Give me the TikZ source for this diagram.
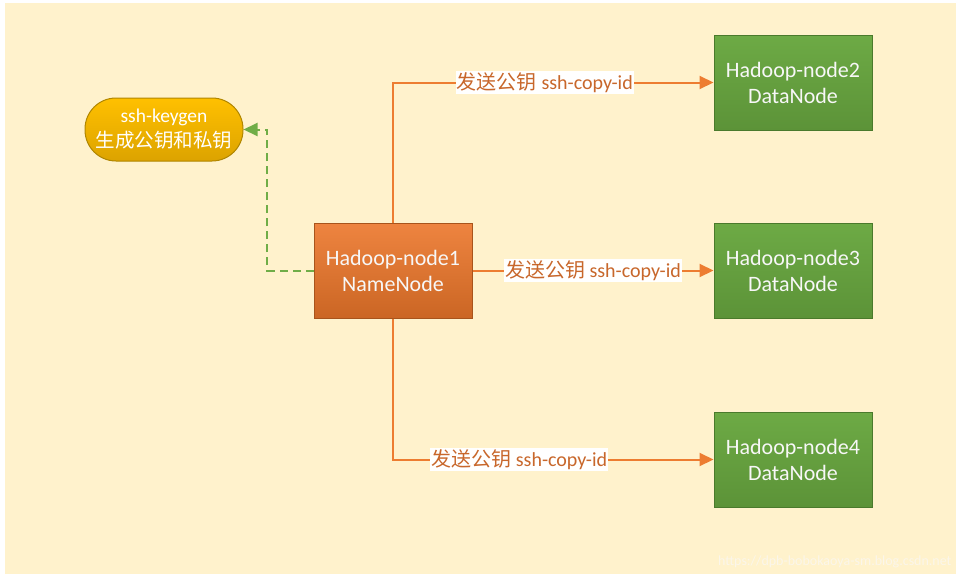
\documentclass[tikz,border=0pt]{standalone}
\usepackage{fontspec}
\setmainfont{Carlito}
\newfontfamily\cjk{Noto Sans CJK SC}
\usetikzlibrary{arrows.meta}
\definecolor{bgc}{HTML}{FFF2CC}
\definecolor{orangeT}{HTML}{EE8440}
\definecolor{orangeB}{HTML}{CB6624}
\definecolor{orangeD}{HTML}{A8541C}
\definecolor{greenT}{HTML}{6DAA45}
\definecolor{greenB}{HTML}{5C9338}
\definecolor{greenD}{HTML}{4A7A2C}
\definecolor{goldT}{HTML}{FFC000}
\definecolor{goldB}{HTML}{DCA300}
\definecolor{goldD}{HTML}{B08600}
\definecolor{lineO}{HTML}{ED7D31}
\definecolor{labO}{HTML}{C8672B}
\definecolor{dashG}{HTML}{70AD47}
\definecolor{txtW}{HTML}{F7F7F7}
\definecolor{wmark}{HTML}{FBF6EA}
\tikzset{
  namebox/.style={draw=orangeD, line width=1pt, top color=orangeT, bottom color=orangeB,
    minimum width=158pt, minimum height=95pt, align=center, text=txtW,
    font=\fontsize{22}{26}\selectfont, inner sep=0pt},
  databox/.style={draw=greenD, line width=1pt, top color=greenT, bottom color=greenB,
    minimum width=158pt, minimum height=95pt, align=center, text=txtW,
    font=\fontsize{22}{26}\selectfont, inner sep=0pt},
  keybox/.style={draw=goldD, line width=1pt, top color=goldT, bottom color=goldB,
    minimum width=158pt, minimum height=63pt, rounded corners=31pt, align=center, text=white,
    font=\fontsize{19.5}{25}\selectfont, inner sep=0pt},
  edge/.style={draw=lineO, line width=2pt, -{Triangle[length=14pt,width=13pt]}},
  dashedge/.style={draw=dashG, line width=2pt, dash pattern=on 8pt off 5pt,
    -{Triangle[length=14pt,width=13pt]}},
  elabel/.style={fill=white, text=labO, inner sep=1pt, font=\fontsize{20}{22}\selectfont}
}
\begin{document}
\begin{tikzpicture}[x=1pt,y=-1pt]
\useasboundingbox (0,0) rectangle (960,584);
\fill[white] (0,0) rectangle (960,584);
\fill[bgc] (5,3) rectangle (956,574);

\node[keybox] (kg) at (164,129.5) {ssh-keygen\\{\cjk 生成公钥和私钥}};
\node[namebox] (n1) at (393,270.5) {Hadoop-node1\\NameNode};
\node[databox] (d2) at (793,82.5) {Hadoop-node2\\DataNode};
\node[databox] (d3) at (793,270.5) {Hadoop-node3\\DataNode};
\node[databox] (d4) at (793,459.5) {Hadoop-node4\\DataNode};

\draw[edge] (n1.north) |- (d2.west) node[elabel, pos=0.737] (l2) {{\cjk 发送公钥} ssh-copy-id};
\draw[edge] (n1.east) -- (d3.west) node[elabel, pos=0.5] (l3) {{\cjk 发送公钥} ssh-copy-id};
\draw[edge] (n1.south) |- (d4.west) node[elabel, pos=0.697] (l4) {{\cjk 发送公钥} ssh-copy-id};

\coordinate (bend) at (267,270.5);
\draw[dashedge] (n1.west) -- (bend) |- (kg.east);

\node[text=wmark, font=\fontsize{14}{16}\selectfont, anchor=east] (wm) at (955,562) {https://dpb-bobokaoya-sm.blog.csdn.net};
\end{tikzpicture}
\end{document}
